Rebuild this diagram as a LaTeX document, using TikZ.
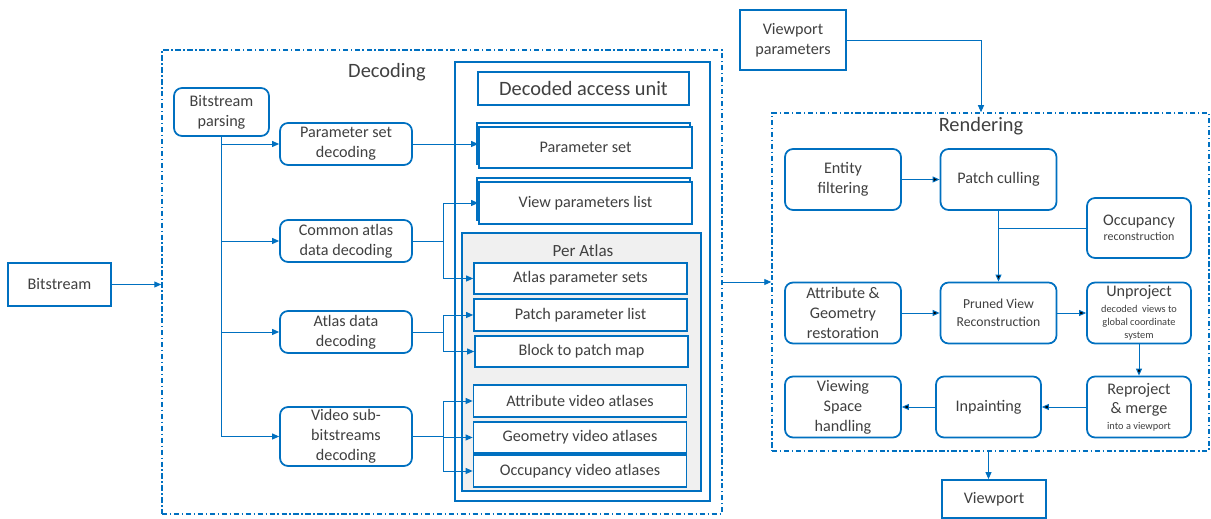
\documentclass[tikz,border=0pt]{standalone}
\usepackage{fontspec}
\setmainfont{Carlito}
\usetikzlibrary{arrows.meta,shadows}
\definecolor{lineblue}{RGB}{0,112,192}
\definecolor{txtgray}{RGB}{64,64,64}
\definecolor{atlasgray}{RGB}{240,240,240}
\newcommand{\bodyf}{\fontsize{9.2}{11.3}\selectfont}
\newcommand{\titlef}{\fontsize{11.6}{14}\selectfont}
\newcommand{\smallf}{\fontsize{5.9}{7}\selectfont}

\begin{document}
\begin{tikzpicture}[x=0.02cm, y=-0.02cm,
    blk/.style = {draw=lineblue, line width=1pt, rounded corners=0.16cm, fill=white, align=center, text=txtgray, font=\bodyf, inner sep=1pt},
    sq/.style = {draw=lineblue, line width=1pt, fill=white, align=center, text=txtgray, font=\bodyf, inner sep=1pt},
    dbox/.style = {blk, minimum width=2.64cm, minimum height=0.84cm},
    abox/.style = {sq, minimum width=4.26cm, minimum height=0.63cm},
    rbox/.style = {blk, minimum width=2.32cm, minimum height=1.22cm},
    frame/.style = {draw=lineblue, line width=0.9pt, dash pattern=on 3pt off 1.5pt on 0.8pt off 1.5pt, inner sep=0pt},
    ttl/.style = {text=txtgray, font=\titlef},
    arr/.style = {draw=lineblue, line width=0.55pt, -{Triangle[length=1.4mm,width=1.2mm]}},
    ln/.style = {draw=lineblue, line width=0.55pt}]
    \useasboundingbox (0,0) rectangle (1211,519);

    % frames
    \node[frame, minimum width=11.2cm, minimum height=9.28cm] (dec) at (442,282) {};
    \node[frame, minimum width=8.74cm, minimum height=6.76cm] (ren) at (990.5,282) {};
    \node[ttl] (dectitle) at (387,72) {Decoding};
    \node[ttl] (rentitle) at (981,126) {Rendering};

    \node[sq, minimum width=2.06cm, minimum height=0.86cm] (bs) at (59.5,284.5) {Bitstream};
    \node[sq, minimum width=2.12cm, minimum height=1.2cm] (vpp) at (793,40) {Viewport\\parameters};

    % decoding
    \node[blk, minimum width=1.9cm, minimum height=0.96cm] (bp) at (221.5,112) {Bitstream\\parsing};
    \node[dbox] (psd) at (346,144) {Parameter set\\decoding};
    \node[dbox] (cad) at (346,241) {Common atlas\\data decoding};
    \node[dbox] (add) at (346,332) {Atlas data\\decoding};
    \node[dbox, minimum height=1.18cm] (vsd) at (346,436.5) {Video sub-\\bitstreams\\decoding};

    \node[draw=lineblue, line width=0.9pt, minimum width=5.1cm, minimum height=8.78cm] (dau) at (582.5,281.5) {};
    \node[sq, line width=0.9pt, font=\titlef, minimum width=4.22cm, minimum height=0.66cm] (daut) at (583.5,88.5) {Decoded access unit};
    \node[sq, copy shadow={shadow xshift=-0.04cm, shadow yshift=0.08cm}, minimum width=4.26cm, minimum height=0.82cm] (ps) at (585.5,147.5) {Parameter set};
    \node[sq, copy shadow={shadow xshift=-0.04cm, shadow yshift=0.08cm}, minimum width=4.26cm, minimum height=0.84cm] (vpl) at (585.5,203) {View parameters list};

    \node[draw=lineblue, line width=0.9pt, fill=atlasgray, minimum width=4.78cm, minimum height=5.16cm] (pa) at (581.5,362) {};
    \node[text=txtgray, font=\fontsize{9.7}{12}\selectfont] (patitle) at (583,251) {Per Atlas};
    \node[abox] (aps) at (580.5,278.5) {Atlas parameter sets};
    \node[abox] (ppl) at (580.5,315) {Patch parameter list};
    \node[abox] (btp) at (581.5,351.5) {Block to patch map};
    \node[abox] (ava) at (580,401) {Attribute video atlases};
    \node[abox] (gva) at (580,437.5) {Geometry video atlases};
    \node[abox] (ova) at (580,471) {Occupancy video atlases};

    \draw[arr] (bs) -- (bs -| dec.west);
    \foreach \t in {psd,cad,add,vsd}
        \draw[arr] (bp.south) |- (\t.west);
    \draw[arr] (psd.east) -- (psd.east -| ps.west);

    \path (cad.east) ++(31,0) coordinate (j1);
    \path (add.east) ++(31,0) coordinate (j2);
    \path (vsd.east) ++(31,0) coordinate (j3);
    \draw[ln] (cad.east) -- (j1);
    \draw[ln] (add.east) -- (j2);
    \draw[ln] (vsd.east) -- (j3);
    \draw[arr] (j1) |- (vpl.west);
    \draw[arr] (j1) |- (aps.west);
    \draw[arr] (j2) |- (ppl.west);
    \draw[arr] (j2) |- (btp.west);
    \foreach \t in {ava,gva,ova}
        \draw[arr] (j3) |- (\t.west);

    % rendering
    \node[rbox] (ef) at (843,179.5) {Entity\\filtering};
    \node[rbox] (pc) at (998.5,179.5) {Patch culling};
    \node[rbox, minimum width=2.08cm, minimum height=1.2cm] (occ) at (1139,228) {Occupancy\\[-2.5pt]\fontsize{6.8}{8.5}\selectfont reconstruction};
    \node[rbox] (agr) at (843,313) {Attribute \&\\Geometry\\restoration};
    \node[rbox, font=\fontsize{7.8}{10}\selectfont] (pvr) at (998.5,313) {Pruned View\\Reconstruction};
    \node[rbox, minimum width=2.08cm] (unp) at (1139,313) {Unproject\\[-2pt]\smallf decoded~~views to\\[-3.9pt]\smallf global coordinate\\[-3.9pt]\smallf system};
    \node[rbox, minimum width=2.08cm] (rep) at (1139,407) {Reproject\\\& merge\\[-2.5pt]\smallf into a viewport};
    \node[rbox, minimum width=2.1cm] (inp) at (988.5,407) {Inpainting};
    \node[rbox] (vsh) at (843,407) {Viewing\\Space\\handling};
    \node[sq, minimum width=2.08cm, minimum height=0.76cm] (vpo) at (994,499) {Viewport};

    \draw[arr] (vpp.east) -| (rentitle |- ren.north);
    \draw[arr] (dec.east) -- (ren.west);
    \path[arr] (ef) edge (pc);
    \path[arr] (pc) edge (pvr);
    \draw[ln] (occ) -- (occ -| pc);
    \path[arr] (agr) edge (pvr);
    \path[arr] (pvr) edge (unp);
    \path[arr] (unp) edge (rep);
    \path[arr] (rep) edge (inp);
    \path[arr] (inp) edge (vsh);
    \draw[arr] (ren.south -| inp) -- (vpo.north -| inp);
\end{tikzpicture}
\end{document}
